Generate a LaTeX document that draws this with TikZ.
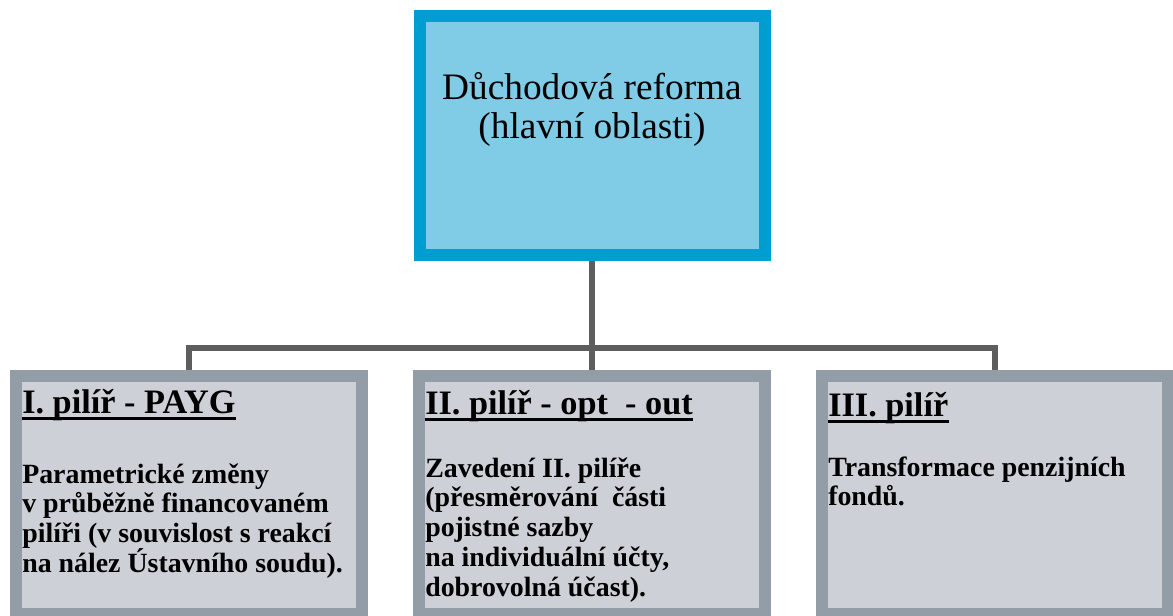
\documentclass[tikz,border=0pt]{standalone}
\usepackage{fontspec}
\setmainfont{Liberation Serif}
\definecolor{topfill}{HTML}{80CBE5}
\definecolor{topborder}{HTML}{009DD0}
\definecolor{boxfill}{HTML}{CDD1D7}
\definecolor{boxborder}{HTML}{939DA7}
\definecolor{connc}{HTML}{5E5E5E}
\newcommand\ctwo[2]{\vtop{\lineskiplimit=-\maxdimen\relax\halign{\hfil##\hfil\cr#1\cr#2\cr}}}
\newcommand\stk[1]{\vtop{\lineskiplimit=-\maxdimen\relax#1}}
\tikzset{
  topbox/.style={draw=topborder, fill=topfill, line width=9pt, rectangle,
    minimum width=258.75pt, minimum height=179.25pt, inner sep=0pt},
  pillar/.style={draw=boxborder, fill=boxfill, line width=9pt, rectangle,
    minimum width=259.5pt, minimum height=178.5pt, inner sep=0pt},
  conn/.style={draw=connc, line width=4.5pt, line join=miter},
  titletext/.style={anchor=base west, inner sep=0pt, font=\fontsize{25.7}{28}\selectfont\bfseries},
  bodytext/.style={anchor=base west, inner sep=0pt, font=\fontsize{20.9}{22.4}\selectfont\bfseries},
  headtext/.style={anchor=base, inner sep=0pt, font=\fontsize{28}{29.25}\selectfont},
  uline/.style={draw=black, line width=2.6pt}
}
\begin{document}
\begin{tikzpicture}[x=0.75pt, y=-0.75pt]
\useasboundingbox (0,0) rectangle (1173,615);
\clip (0,0) rectangle (1173,615);
\fill[white] (0,0) rectangle (1173,615);
% boxes
\node[topbox] (top) at (592,135.5) {};
\node[pillar] (b1) at (189,495) {};
\node[pillar] (b2) at (592,495) {};
\node[pillar] (b3) at (995,495) {};
% connectors
\coordinate (bus) at (592,348);
\draw[conn] (b1.north) -- (b1.north |- bus) -- (b3.north |- bus) -- (b3.north);
\draw[conn] (top.south) -- (b2.north);
% head text
\node[headtext] (head) at (592,99) {\ctwo{Důchodová reforma}{(hlavní oblasti)}};
% titles
\node[titletext] (t1) at (22,413) {I. pilíř - PAYG};
\node[titletext] (t2) at (425,414) {II. pilíř - opt\ \ - out};
\node[titletext] (t3) at (828,416) {III. pilíř};
\foreach \t in {t1,t2,t3}{
  \draw[uline] ([yshift=-4.1pt]\t.base west) -- ([yshift=-4.1pt]\t.base east);
}
% bodies
\node[bodytext] (p1) at (22,483) {\stk{\hbox{Parametrické změny}\hbox{v průběžně financovaném}\hbox{pilíři (v souvislost s reakcí}\hbox{na nález Ústavního soudu).}}};
\node[bodytext] (p2) at (425,477) {\stk{\hbox{Zavedení II. pilíře}\hbox{(přesměrování\ \ části}\hbox{pojistné sazby}\hbox{na individuální účty,}\hbox{dobrovolná účast).}}};
\node[bodytext] (p3) at (828,476) {\stk{\hbox{Transformace penzijních}\hbox{fondů.}}};
\end{tikzpicture}
\end{document}
